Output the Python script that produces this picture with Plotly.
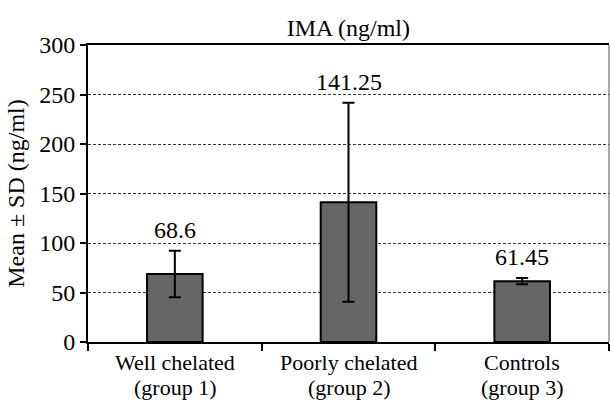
import plotly.graph_objects as go

categories = ["g1", "g2", "g3"]
label_line1 = ["Well chelated", "Poorly chelated", "Controls"]
label_line2 = ["(group 1)", "(group 2)", "(group 3)"]
means = [68.6, 141.25, 61.45]
sds = [23.5, 100.5, 3.2]
labels = ["68.6", "141.25", "61.45"]
y_ticks = [0, 50, 100, 150, 200, 250, 300]

FONT = "'Liberation Serif', 'Times New Roman', serif"
FS = 24
XFS = 22

fig = go.Figure()
fig.add_trace(go.Bar(
    x=categories, y=means,
    marker=dict(color="#666666", line=dict(color="black", width=2)),
    error_y=dict(type="data", array=sds, visible=True, color="black", thickness=2, width=6),
    width=0.32,
    showlegend=False,
))

for c, m, s, t in zip(categories, means, sds, labels):
    fig.add_annotation(x=c, y=m + s, text=t, showarrow=False, yanchor="bottom", yshift=6,
                       font=dict(family=FONT, size=FS, color="black"))

for c, l1, l2 in zip(categories, label_line1, label_line2):
    fig.add_annotation(x=c, xref="x", y=0, yref="paper", text=l1, showarrow=False,
                       yanchor="middle", yshift=-20, font=dict(family=FONT, size=XFS, color="black"))
    fig.add_annotation(x=c, xref="x", y=0, yref="paper", text=l2, showarrow=False,
                       yanchor="middle", yshift=-45, font=dict(family=FONT, size=XFS, color="black"))

fig.update_layout(
    width=610, height=401,
    margin=dict(l=88, r=1, t=45, b=59),
    paper_bgcolor="white", plot_bgcolor="white",
    font=dict(family=FONT, size=FS, color="black"),
    title=dict(text="IMA (ng/ml)", x=0.571, xanchor="center", y=1 - 28 / 401, yanchor="middle",
               yref="container", font=dict(family=FONT, size=FS, color="black")),
    bargap=0.68,
)
fig.update_xaxes(
    showline=True, linecolor="black", linewidth=2, mirror=True,
    ticks="outside", tickson="boundaries", ticklen=7, tickwidth=2, tickcolor="black",
    showticklabels=False, showgrid=False,
)
fig.update_yaxes(
    range=[0, 300], tickvals=y_ticks, ticktext=[str(v) for v in y_ticks],
    showline=True, linecolor="black", linewidth=2,
    ticks="outside", ticklen=6, tickwidth=2, tickcolor="black",
    tickfont=dict(family=FONT, size=FS, color="black"),
    showgrid=True, gridcolor="#333333", gridwidth=1, griddash="3px,2px",
    zeroline=False,
    title=dict(text="Mean ± SD (ng/ml)", font=dict(family=FONT, size=FS, color="black"), standoff=8),
)
fig.add_shape(type="line", xref="paper", yref="paper", x0=1, x1=1, y0=0, y1=1,
              line=dict(color="#555555", width=1))

fig.write_html("out.html")
